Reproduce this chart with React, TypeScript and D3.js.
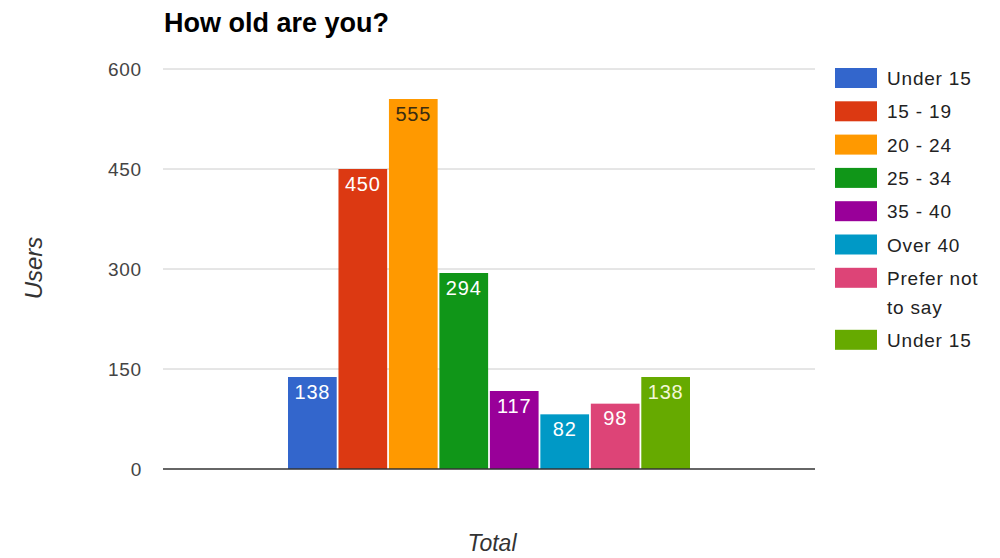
import React from "react";
import * as d3 from "d3";

const categories = ["Under 15", "15 - 19", "20 - 24", "25 - 34", "35 - 40", "Over 40", "Prefer not to say", "Under 15 "];
const legendLabels = [["Under 15"], ["15 - 19"], ["20 - 24"], ["25 - 34"], ["35 - 40"], ["Over 40"], ["Prefer not", "to say"], ["Under 15"]];
const values = [138, 450, 555, 294, 117, 82, 98, 138];
const colors = ["#3366cc", "#dc3912", "#ff9900", "#109618", "#990099", "#0099c6", "#dd4477", "#66aa00"];
const labelColors = ["#ffffff", "#ffffff", "#3a2c10", "#ffffff", "#ffffff", "#ffffff", "#ffffff", "#f2f7d8"];
const yTicks = [0, 150, 300, 450, 600];

const W = 1000;
const H = 558;
const plot = { left: 163, right: 815, top: 69, bottom: 469 };
const groupL = 288;
const groupR = 690;

export default function App() {
  const y = d3.scaleLinear().domain([0, 600]).range([plot.bottom, plot.top]);
  const x = d3.scaleBand<string>().domain(categories).range([groupL, groupR]).paddingInner(0.035).paddingOuter(0);
  const font = "'Liberation Sans', Arial, sans-serif";

  let legendY = 68;
  const legendRows = legendLabels.map((lines, i) => {
    const row = { y: legendY, lines, color: colors[i] };
    legendY += 33.3 + (lines.length - 1) * 28.7;
    return row;
  });

  return (
    <svg width={W} height={H} style={{ position: "absolute", left: 0, top: 0, background: "#fff" }} fontFamily={font}>
      <rect width={W} height={H} fill="#fff" />
      <text x={164} y={32} fontSize={27} fontWeight="bold" fill="#000">How old are you?</text>

      {yTicks.map((t) => (
        <g key={t}>
          {t !== 0 && <line x1={plot.left} x2={plot.right} y1={y(t)} y2={y(t)} stroke="#cccccc" strokeWidth={1} />}
          <text x={142} y={y(t) + 7} fontSize={19} textAnchor="end" fill="#444" letterSpacing={0.8}>{t}</text>
        </g>
      ))}

      {values.map((v, i) => {
        const bx = x(categories[i])!;
        const bw = x.bandwidth();
        return (
          <g key={i}>
            <rect x={bx} y={y(v)} width={bw} height={y(0) - y(v)} fill={colors[i]} />
            <text x={bx + bw / 2} y={y(v) + 21.5} fontSize={20} textAnchor="middle" fill={labelColors[i]} letterSpacing={0.8}>{v}</text>
          </g>
        );
      })}

      <line x1={plot.left} x2={plot.right} y1={y(0)} y2={y(0)} stroke="#333" strokeWidth={1.5} />

      <text transform={`translate(42,268) rotate(-90)`} fontSize={24} fontStyle="italic" textAnchor="middle" fill="#333">Users</text>
      <text x={492} y={551} fontSize={23} fontStyle="italic" textAnchor="middle" fill="#333">Total</text>

      {legendRows.map((r, i) => (
        <g key={i}>
          <rect x={835} y={r.y} width={42} height={20} fill={r.color} />
          {r.lines.map((ln, j) => (
            <text key={j} x={887} y={r.y + 17 + j * 28.7} fontSize={19} fill="#222" letterSpacing={0.8}>{ln}</text>
          ))}
        </g>
      ))}
    </svg>
  );
}
